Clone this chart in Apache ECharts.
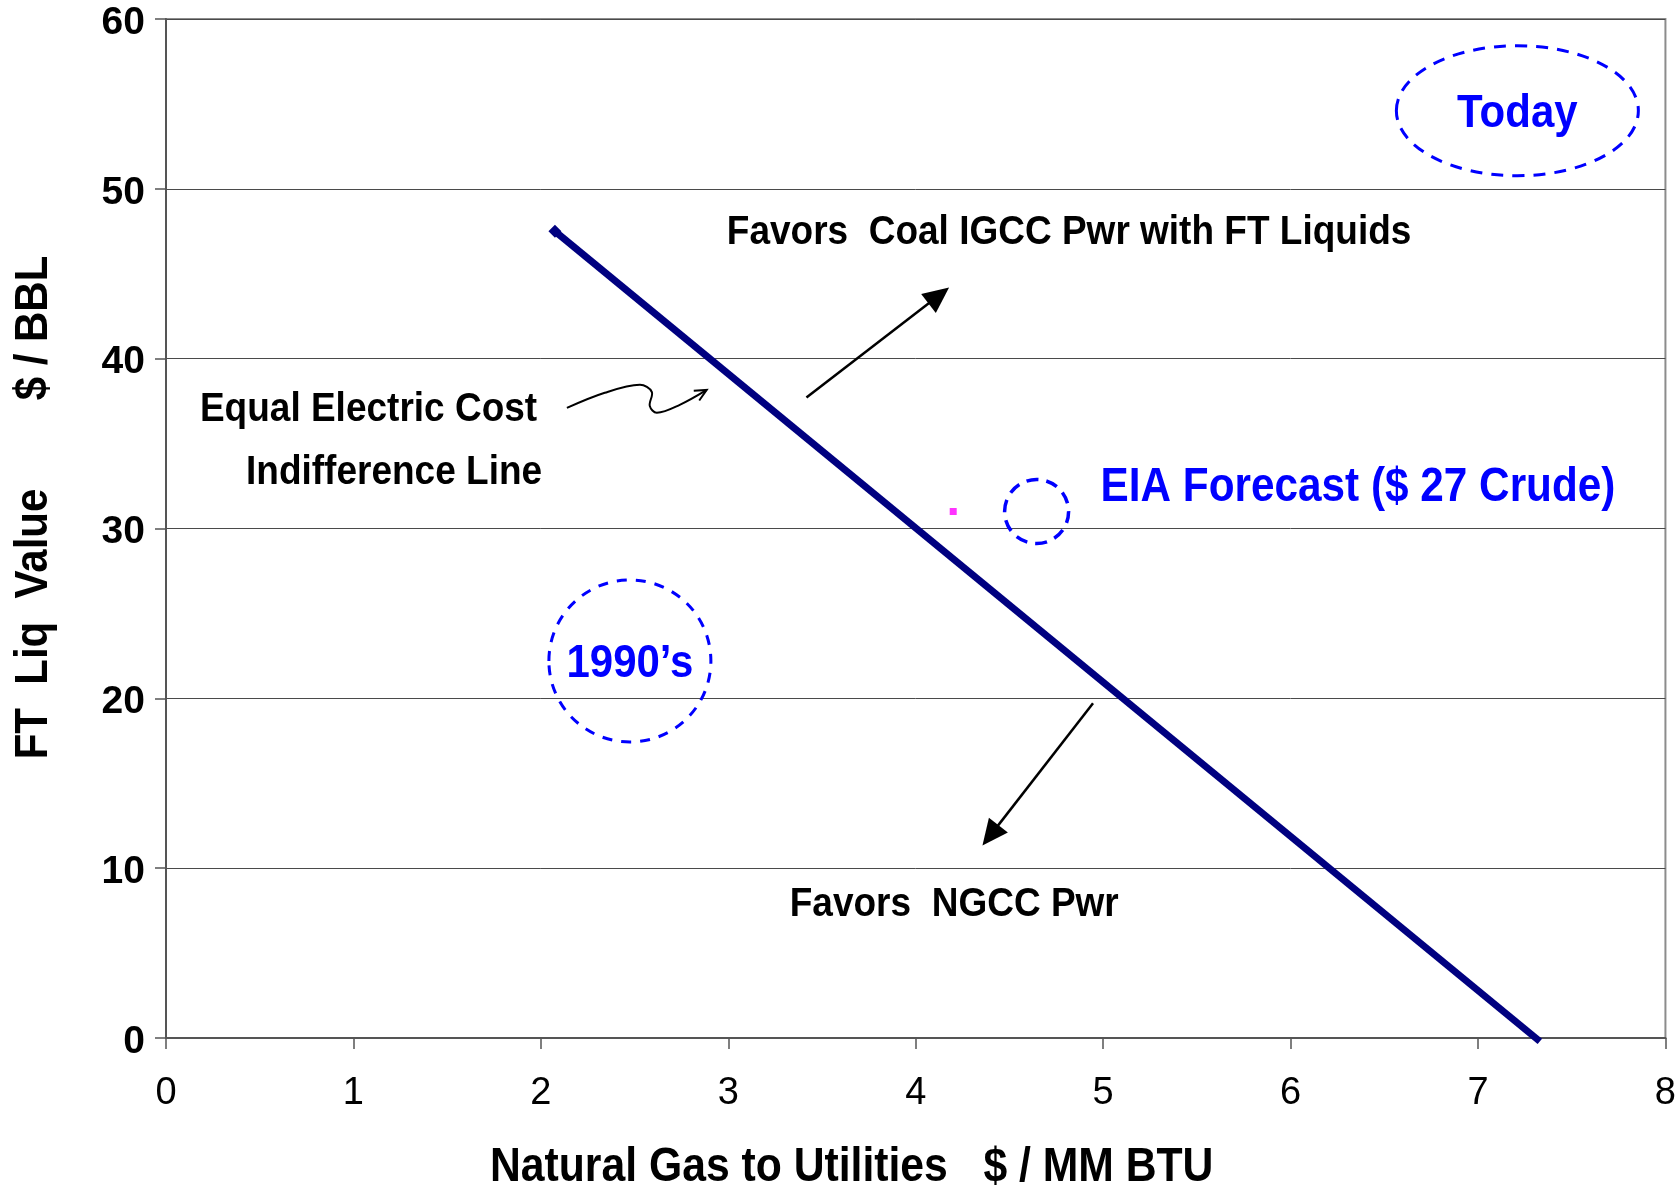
<!DOCTYPE html>
<html>
<head>
<meta charset="utf-8">
<script src="https://cdn.jsdelivr.net/npm/echarts@6/dist/echarts.min.js"></script>
<style>
  html, body { margin: 0; padding: 0; background: #fff; }
  #chart { width: 1679px; height: 1188px; }
</style>
</head>
<body>
<div id="chart"></div>
<script>
// Equal electric cost indifference line: [natural gas $/MM BTU, FT liquids value $/BBL]
const indifferenceLine = [[2.075, 47.5], [7.33, -0.2]];
// EIA forecast point
const eiaPoint = [[4.2, 31.0]];
// Tick labels
const xTickLabels = ['0', '1', '2', '3', '4', '5', '6', '7', '8'];
const yTickLabels = { 0: '0', 10: '10', 20: '20', 30: '30', 40: '40', 50: '50', 60: '60' };

// Circled periods, centred in axis units
const todayCentre = [7.21, 54.6];
const ninetiesCentre = [2.475, 22.2];
const eiaCircleCentre = [4.645, 31.0];

// Annotation anchors in axis units
const noteCoal = [2.992, 47.4];
const noteEqual = [0.181, 36.98];
const noteIndiff = [0.427, 33.27];
const noteNgcc = [3.328, 7.83];
const arrowUp = [[3.417, 37.71], [4.178, 44.19]];
const arrowDown = [[4.946, 19.71], [4.356, 11.33]];
const squiggle = [[2.139, 37.10], [2.341, 37.99], [2.528, 38.46], [2.592, 38.04],
                  [2.581, 37.22], [2.619, 36.81], [2.741, 37.28], [2.885, 38.16]];

const FONT = '"Liberation Sans", Arial, Helvetica, sans-serif';
const BLUE = '#0000ff';
const NAVY = '#000080';
const STRETCH = 1.12;

const chart = echarts.init(document.getElementById('chart'), null, { renderer: 'canvas' });

chart.setOption({
  animation: false,
  backgroundColor: '#ffffff',
  grid: {
    left: 166, right: 13, top: 19, bottom: 150,
    show: true, borderColor: '#8c8c8c', borderWidth: 2, backgroundColor: 'transparent'
  },
  xAxis: {
    type: 'value', min: 0, max: 8, interval: 1,
    axisLine: { show: true, onZero: false, lineStyle: { color: '#555', width: 2 } },
    axisTick: { show: true, inside: false, length: 11, lineStyle: { color: '#555', width: 1.5 } },
    axisLabel: {
      fontSize: 38, fontFamily: FONT, color: '#000', margin: 37,
      formatter: v => xTickLabels[Math.round(v)]
    },
    splitLine: { show: false }
  },
  yAxis: {
    type: 'value', min: 0, max: 60, interval: 10,
    axisLine: { show: true, lineStyle: { color: '#555', width: 2 } },
    axisTick: { show: true, inside: false, length: 11, lineStyle: { color: '#555', width: 1.5 } },
    axisLabel: {
      fontSize: 39, fontWeight: 'bold', fontFamily: FONT, color: '#000', margin: 21,
      verticalAlign: 'top', lineHeight: 8,
      formatter: v => yTickLabels[v]
    },
    splitLine: { show: true, lineStyle: { color: '#4a4a4a', width: 1 } }
  },
  series: [
    {
      type: 'line',
      clip: false,
      symbol: 'none',
      showSymbol: true,
      data: indifferenceLine.map((p, i) => i === 0
        ? { value: p, symbol: 'diamond', symbolSize: 13, itemStyle: { color: NAVY } }
        : { value: p }),
      lineStyle: { color: NAVY, width: 7, cap: 'butt' },
      itemStyle: { color: NAVY },
      z: 5
    },
    {
      type: 'scatter',
      data: eiaPoint,
      symbol: 'rect',
      symbolSize: 7,
      itemStyle: { color: '#ff00ff' },
      z: 5
    }
  ]
});

const px = p => chart.convertToPixel({ gridIndex: 0 }, p);

function text(pos, str, opts) {
  return {
    type: 'text', x: pos[0], y: pos[1], z: 20,
    rotation: opts.rotation || 0,
    scaleX: 1,
    scaleY: STRETCH,
    style: {
      text: str,
      font: 'bold ' + opts.size + 'px ' + FONT,
      fill: opts.color || '#000',
      textAlign: opts.align || 'left',
      textVerticalAlign: 'middle'
    }
  };
}

function ellipse(centre, rx, ry, dash, width) {
  const c = px(centre);
  return {
    type: 'ellipse', z: 15,
    shape: { cx: c[0], cy: c[1], rx: rx, ry: ry },
    style: { fill: 'none', stroke: BLUE, lineWidth: width, lineDash: dash }
  };
}

function solidArrow(pair) {
  const a = px(pair[0]), b = px(pair[1]);
  const dx = b[0] - a[0], dy = b[1] - a[1];
  const len = Math.hypot(dx, dy), ux = dx / len, uy = dy / len;
  const L = 26, hw = 12;
  const bx = b[0] - ux * L, by = b[1] - uy * L;
  return [
    { type: 'line', z: 18, shape: { x1: a[0], y1: a[1], x2: bx + ux * 2, y2: by + uy * 2 },
      style: { stroke: '#000', lineWidth: 2.5 } },
    { type: 'polygon', z: 18,
      shape: { points: [b, [bx - uy * hw, by + ux * hw], [bx + uy * hw, by - ux * hw]] },
      style: { fill: '#000' } }
  ];
}

function squiggleArrow(pts) {
  const p = pts.map(px);
  const tip = p[p.length - 1], prev = p[p.length - 2];
  const dx = tip[0] - prev[0], dy = tip[1] - prev[1];
  const len = Math.hypot(dx, dy), ux = dx / len, uy = dy / len;
  const L = 13, s = Math.sin(0.45), c = Math.cos(0.45);
  const wing = sign => [tip[0] - L * (ux * c - sign * uy * s), tip[1] - L * (uy * c + sign * ux * s)];
  return [
    { type: 'polyline', z: 18, shape: { points: p, smooth: 0.35 },
      style: { stroke: '#000', lineWidth: 2, fill: 'none' } },
    { type: 'polyline', z: 18, shape: { points: [wing(1), tip, wing(-1)] },
      style: { stroke: '#000', lineWidth: 2, fill: 'none' } }
  ];
}

const eiaC = px(eiaCircleCentre);
const todayC = px(todayCentre);
const ninetiesC = px(ninetiesCentre);

const graphics = [
  ellipse(todayCentre, 121, 65, [12, 9], 3),
  ellipse(ninetiesCentre, 81, 81, [10, 9], 3),
  ellipse(eiaCircleCentre, 32, 32, [12, 8], 3.5),
  text([todayC[0], todayC[1] + 3], 'Today', { size: 42, color: BLUE, align: 'center' }),
  text([ninetiesC[0], ninetiesC[1] + 3], '1990\u2019s', { size: 42, color: BLUE, align: 'center' }),
  text([eiaC[0] + 64, eiaC[1] - 24], 'EIA Forecast ($ 27 Crude)', { size: 42.3, color: BLUE }),
  text(px(noteCoal), 'Favors  Coal IGCC Pwr with FT Liquids', { size: 37 }),
  text(px(noteEqual), 'Equal Electric Cost', { size: 37 }),
  text(px(noteIndiff), 'Indifference Line', { size: 37 }),
  text(px(noteNgcc), 'Favors  NGCC Pwr', { size: 37 }),
  ...solidArrow(arrowUp),
  ...solidArrow(arrowDown),
  ...squiggleArrow(squiggle),
  // axis titles
  text([490, 1168], 'Natural Gas to Utilities   $ / MM BTU', { size: 42.7 }),
  text([34, 624], 'FT  Liq  Value', { size: 42, align: 'center', rotation: Math.PI / 2 }),
  text([34, 328], '$ / BBL', { size: 42, align: 'center', rotation: Math.PI / 2 })
];

chart.setOption({ graphic: graphics });
</script>
</body>
</html>
